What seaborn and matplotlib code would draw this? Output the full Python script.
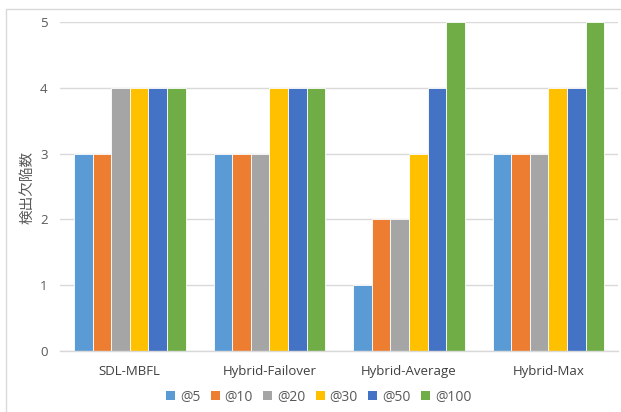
import matplotlib
matplotlib.use("Agg")
import matplotlib.pyplot as plt
import seaborn as sns
import pandas as pd
from matplotlib.lines import Line2D
from matplotlib.patches import Patch

categories = ["SDL-MBFL", "Hybrid-Failover", "Hybrid-Average", "Hybrid-Max"]
series = ["@5", "@10", "@20", "@30", "@50", "@100"]
at5 = [3, 3, 1, 3]
at10 = [3, 3, 2, 3]
at20 = [4, 3, 2, 3]
at30 = [4, 4, 3, 4]
at50 = [4, 4, 4, 4]
at100 = [4, 4, 5, 5]
colors = ["#5B9BD5", "#ED7D31", "#A5A5A5", "#FFC000", "#4472C4", "#70AD47"]

rows = []
for name, vals in zip(series, [at5, at10, at20, at30, at50, at100]):
    for cat, v in zip(categories, vals):
        rows.append({"method": cat, "k": name, "count": v})
df = pd.DataFrame(rows)

sns.set_theme(style="white")
plt.rcParams["font.family"] = ["Open Sans", "Noto Sans CJK JP", "DejaVu Sans"]

fig = plt.figure(figsize=(6.21, 4.12), dpi=100)
ax = fig.add_axes([0.0966, 0.148, 0.899, 0.799])

sns.barplot(data=df, x="method", y="count", hue="k", order=categories,
            hue_order=series, palette=colors, width=0.8, ax=ax,
            edgecolor="white", linewidth=0.6, legend=False, saturation=1)

ax.set_ylim(0, 5)
ax.set_yticks(range(0, 6))
ax.yaxis.grid(True, color="#D9D9D9", linewidth=1)
ax.set_axisbelow(True)
for s in ["top", "right", "left"]:
    ax.spines[s].set_visible(False)
ax.spines["bottom"].set_color("#D9D9D9")
ax.spines["bottom"].set_linewidth(1)
ax.tick_params(axis="both", length=0, labelsize=9.5, colors="#595959")
ax.tick_params(axis="y", pad=9)
ax.tick_params(axis="x", pad=10)
ax.set_xlabel("")
ax.set_ylabel("")
fig.text(27 / 621, 1 - 187 / 412, "検出欠陥数", rotation=90, ha="center", va="center",
         family=["Noto Sans CJK JP", "DejaVu Sans"], fontsize=10.5, color="#595959")
for lbl in ax.get_xticklabels():
    lbl.set_color("#404040")

handles = [Patch(facecolor=c, edgecolor="none") for c in colors]
fig.legend(handles, series, loc="center", bbox_to_anchor=(0.513, 1 - 397 / 412),
           ncol=6, frameon=False, fontsize=10, handlelength=0.65, handleheight=0.65,
           handletextpad=0.35, columnspacing=0.75, labelcolor="#595959")

# outer chart frame
fig.add_artist(Line2D([6 / 621, 6 / 621], [0, 1 - 8.5 / 412], transform=fig.transFigure,
                      color="#D9D9D9", linewidth=1))
fig.add_artist(Line2D([6 / 621, 1], [1 - 8.5 / 412, 1 - 8.5 / 412], transform=fig.transFigure,
                      color="#D9D9D9", linewidth=1))

fig.savefig("out.png", dpi=100)
